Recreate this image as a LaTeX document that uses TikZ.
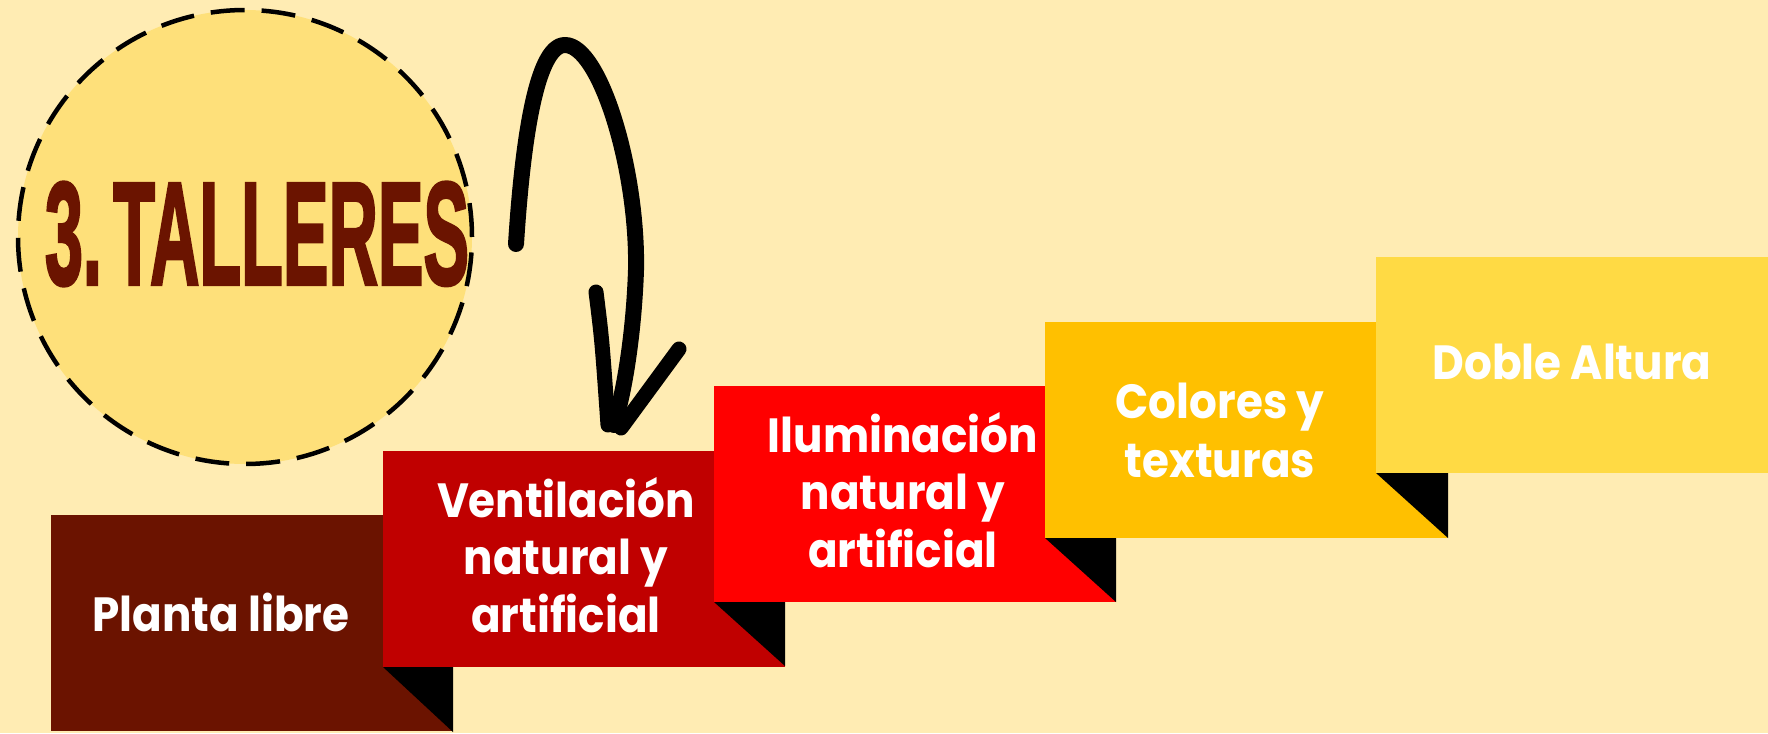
\documentclass[tikz,border=0pt]{standalone}
\usepackage{fontspec}
\setmainfont{Poppins}
\newfontfamily\titlefont{Liberation Sans}[BoldFeatures={FakeBold=2.5}]
\definecolor{bg}{HTML}{FFECB3}
\definecolor{circ}{HTML}{FEE07A}
\definecolor{ctitle}{HTML}{6B1400}
\definecolor{c1}{HTML}{6B1300}
\definecolor{c2}{HTML}{C00000}
\definecolor{c3}{HTML}{FF0000}
\definecolor{c4}{HTML}{FFC000}
\definecolor{c5}{HTML}{FFDA44}
\newcommand\sqz[1]{\scalebox{0.91}[1]{#1}}
\tikzset{
  stepbox/.style={rectangle, inner sep=0, outer sep=0, anchor=north west, minimum width=402, minimum height=216},
  fold/.style={fill=black},
  lbl/.style={text=white, anchor=base, inner sep=0, font=\fontsize{48}{57}\selectfont\bfseries},
  brush/.style={line width=16, line cap=round, line join=round}
}
\begin{document}
\begin{tikzpicture}[x=1pt,y=-1pt]
\fill[bg] (0,0) rectangle (1768,733);
\useasboundingbox (0,0) rectangle (1768,733);
% title circle
\node[circle, fill=circ, draw=black, line width=4.5, dash pattern=on 34 off 17, minimum size=454, inner sep=0] (circ) at (245,237) {};
\node[inner sep=0, text=ctitle] (title) at (257,234) {\resizebox{424pt}{102pt}{\titlefont\bfseries 3.\,TALLERES}};
% hand drawn arrow
\draw[brush] (516,244) .. controls (522,150) and (535,45) .. (565,45)
  .. controls (600,45) and (638,170) .. (636,270)
  .. controls (634,330) and (625,390) .. (614,425);
\draw[brush, line width=15] (596,292) .. controls (602,340) .. (608,425);
\draw[brush, line width=15] (679,349) -- (621,428);
% steps
\node[stepbox, fill=c1] (b1) at (51,515) {};
\node[stepbox, fill=c2] (b2) at (383,451) {};
\fill[fold] (b2.south west) -- ++(70,0) -- ++(0,65) -- cycle;
\node[stepbox, fill=c3] (b3) at (714,386) {};
\fill[fold] (b3.south west) -- ++(71,0) -- ++(0,64) -- cycle;
\node[stepbox, fill=c4] (b4) at (1045,322) {};
\fill[fold] (b4.south west) -- ++(71,0) -- ++(0,64) -- cycle;
\node[stepbox, fill=c5, minimum width=420] (b5) at (1376,257) {};
\fill[fold] (b5.south west) -- ++(72,0) -- ++(0,65) -- cycle;
% labels
\node[lbl] (t1) at (221,631) {\sqz{Planta libre}};
\node[lbl] (t2a) at (566,517) {\sqz{Ventilación}};
\node[lbl] (t2b) at (566,574) {\sqz{natural y}};
\node[lbl] (t2c) at (566,632) {\sqz{artificial}};
\node[lbl] (t3a) at (903,452) {\sqz{Iluminación}};
\node[lbl] (t3b) at (903,509) {\sqz{natural y}};
\node[lbl] (t3c) at (903,567) {\sqz{artificial}};
\node[lbl] (t4a) at (1220,418) {\sqz{Colores y}};
\node[lbl] (t4b) at (1220,477) {\sqz{texturas}};
\node[lbl] (t5) at (1572,379) {\sqz{Doble Altura}};
\end{tikzpicture}
\end{document}
